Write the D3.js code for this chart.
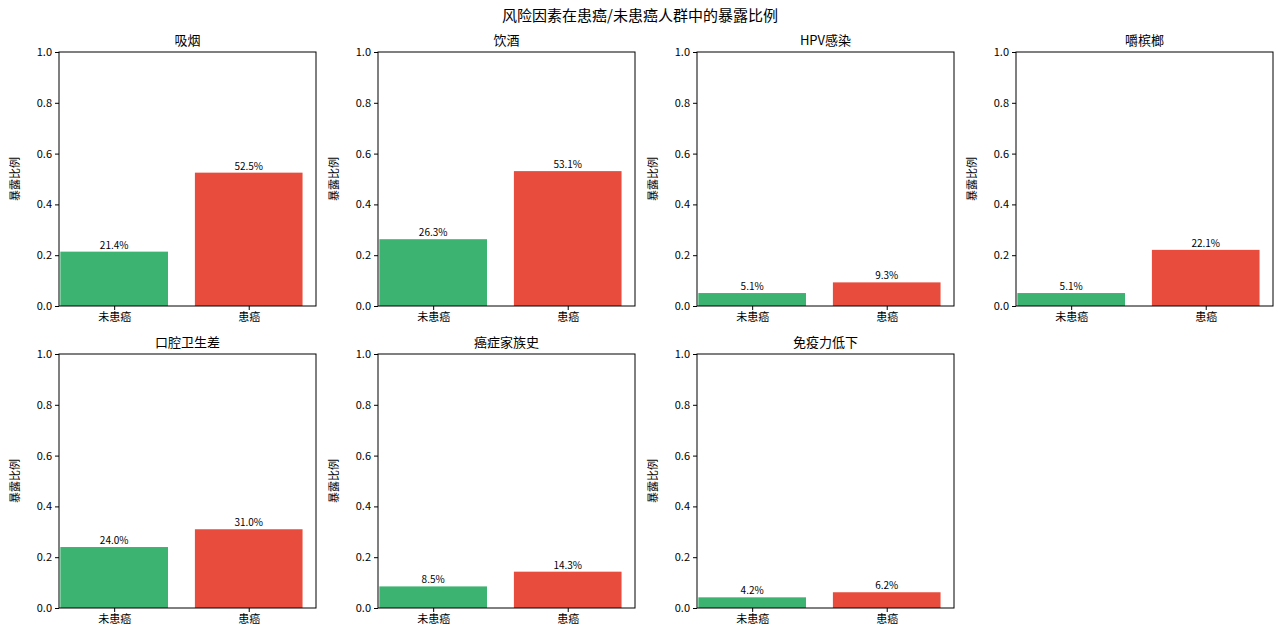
<!DOCTYPE html>
<html lang="zh">
<head>
<meta charset="UTF-8">
<script src="https://d3js.org/d3.v7.min.js"></script>
<style>
  body { margin: 0; background: #fff; }
  text { font-family: "Noto Sans CJK SC", sans-serif; fill: #000; }
</style>
</head>
<body>
<script>
// data
var factors = ["吸烟", "饮酒", "HPV感染", "嚼槟榔", "口腔卫生差", "癌症家族史", "免疫力低下"];
var groups = ["未患癌", "患癌"];
var noCancer = [0.214, 0.263, 0.051, 0.051, 0.240, 0.085, 0.042];
var cancer = [0.525, 0.531, 0.093, 0.221, 0.310, 0.143, 0.062];
var yTicks = [0, 0.2, 0.4, 0.6, 0.8, 1.0];
var colors = ["#3cb371", "#e74c3c"];

var width = 1280, height = 634;
var svg = d3.select("body").append("svg").attr("width", width).attr("height", height);

svg.append("text").attr("x", 640).attr("y", 21).attr("text-anchor", "middle")
   .style("font-size", "15px").text("风险因素在患癌/未患癌人群中的暴露比例");

var colX = [59, 378, 697, 1016], rowY = [52, 354];
var pw = 257, ph = 254;

factors.forEach(function(f, i) {
    var left = colX[i % 4], top = rowY[Math.floor(i / 4)];
    var g = svg.append("g").attr("transform", "translate(" + left + "," + top + ")");
    var x = d3.scaleLinear().domain([-0.41, 1.5]).range([0, pw]);
    var y = d3.scaleLinear().domain([0, 1]).range([ph, 0]);
    var vals = [noCancer[i], cancer[i]];

    g.selectAll("rect").data(vals).enter().append("rect")
        .attr("x", function(d, j) { return x(j - 0.4); })
        .attr("width", x(0.8) - x(0))
        .attr("y", function(d) { return y(d); })
        .attr("height", function(d) { return ph - y(d); })
        .style("fill", function(d, j) { return colors[j]; });

    g.selectAll(".lbl").data(vals).enter().append("text")
        .attr("x", function(d, j) { return x(j); })
        .attr("y", function(d) { return y(d) - 3; })
        .attr("text-anchor", "middle").style("font-size", "10px")
        .text(function(d) { return (d * 100).toFixed(1) + "%"; });

    var yAxis = d3.axisLeft(y).tickValues(yTicks).tickFormat(d3.format(".1f")).tickSize(4);
    var xAxis = d3.axisBottom(x).tickValues([0, 1]).tickFormat(function(d) { return groups[d]; }).tickSize(4);
    g.append("g").call(yAxis).call(function(a) {
        a.select(".domain").remove();
        a.selectAll("text").style("font-size", "11px");
    });
    g.append("g").attr("transform", "translate(0," + ph + ")").call(xAxis).call(function(a) {
        a.select(".domain").remove();
        a.selectAll("text").style("font-size", "11px");
    });
    g.append("rect").attr("width", pw).attr("height", ph)
        .style("fill", "none").style("stroke", "#000").style("stroke-width", 1);

    g.append("text").attr("x", pw / 2).attr("y", -7).attr("text-anchor", "middle")
        .style("font-size", "13px").text(f);
    g.append("text").attr("transform", "translate(-40," + (ph / 2) + ") rotate(-90)")
        .attr("text-anchor", "middle").style("font-size", "11px").text("暴露比例");
});
</script>
</body>
</html>
